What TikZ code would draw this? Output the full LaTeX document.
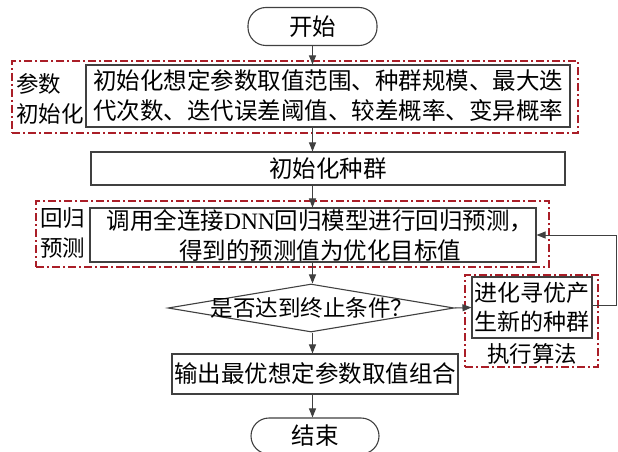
\documentclass[tikz,border=0pt]{standalone}
\usepackage{fontspec}
\setmainfont{Noto Sans CJK SC}
\newfontfamily\latinserif{Liberation Serif}
\usetikzlibrary{arrows.meta,shapes.geometric}
\definecolor{lc}{RGB}{64,64,64}
\definecolor{rd}{RGB}{170,30,40}
\tikzset{
  box/.style={draw=lc, line width=1.1pt, rectangle, inner sep=0pt, align=center,
    font=\fontsize{23.5pt}{30pt}\selectfont},
  term/.style={draw=lc, line width=1.1pt, rectangle, rounded corners=18pt, inner sep=0pt,
    font=\fontsize{23.5pt}{30pt}\selectfont},
  redbox/.style={draw=rd, line width=1.2pt, dash pattern=on 8pt off 3pt on 2pt off 3pt,
    rectangle, inner sep=0pt},
  lab/.style={inner sep=0pt, align=left, font=\fontsize{22.5pt}{29.5pt}\selectfont},
  arr/.style={draw=lc, line width=1pt, -{Triangle[length=9pt,width=7pt]}}
}
\begin{document}
\begin{tikzpicture}[x=1pt,y=-1pt]
\useasboundingbox[fill=white] (0,0) rectangle (618,452);
% red groups
\node[redbox, minimum width=566, minimum height=72] (red1) at (295,97) {};
\node[redbox, minimum width=513, minimum height=66] (red2) at (292.5,234) {};
\node[redbox, minimum width=133, minimum height=92] (red3) at (531.5,321) {};
% main nodes
\node[term, minimum width=129, minimum height=38] (start) at (312.5,26.5) {开始};
\node[box, fill=white, minimum width=484, minimum height=62] (box1) at (328,96)
  {初始化想定参数取值范围、种群规模、最大迭\\代次数、迭代误差阈值、较差概率、变异概率};
\node[lab, anchor=west] (lab1) at (16,99) {参数\\初始化};
\node[box, minimum width=474, minimum height=33] (init) at (328,168.5) {初始化种群};
\node[box, minimum width=446, minimum height=54] (box2) at (313,235)
  {\hspace*{14pt}调用全连接{\latinserif DNN}回归模型进行回归预测，\\\hspace*{14pt}得到的预测值为优化目标值};
\node[lab, anchor=west] (lab2) at (40,233) {回归\\预测};
\node[draw=lc, line width=1.1pt, diamond, minimum width=286, minimum height=48, inner sep=0pt] (dia) at (311,308) {};
\node[inner sep=0pt, font=\fontsize{22.5pt}{30pt}\selectfont] (diatext) at (312,308) {是否达到终止条件？};
\node[box, fill=white, minimum width=120, minimum height=61, font=\fontsize{23pt}{29pt}\selectfont] (evo) at (532,307.5) {进化寻优产\\生新的种群};
\node[lab] (lab3) at (532,354) {执行算法};
\node[box, minimum width=286, minimum height=40] (out) at (315,374) {输出最优想定参数取值组合};
\node[term, minimum width=128, minimum height=36] (end) at (315,436) {结束};
% connectors
\draw[arr] (start.south) -- (start.south |- box1.north);
\draw[arr] (box1.south -| start.south) -- (init.north -| start.south);
\draw[arr] (init.south -| start.south) -- (box2.north -| start.south);
\draw[arr] (box2.south -| start.south) -- (dia.north -| start.south);
\draw[arr] (dia.south -| start.south) -- (out.north -| start.south);
\draw[arr] (out.south -| start.south) -- (end.north -| start.south);
\draw[arr] (dia.east) -- (evo.west);
\coordinate (loop) at (616,305);
\draw[arr] (evo.east |- loop) -- (loop) |- (box2.east);
\end{tikzpicture}
\end{document}
